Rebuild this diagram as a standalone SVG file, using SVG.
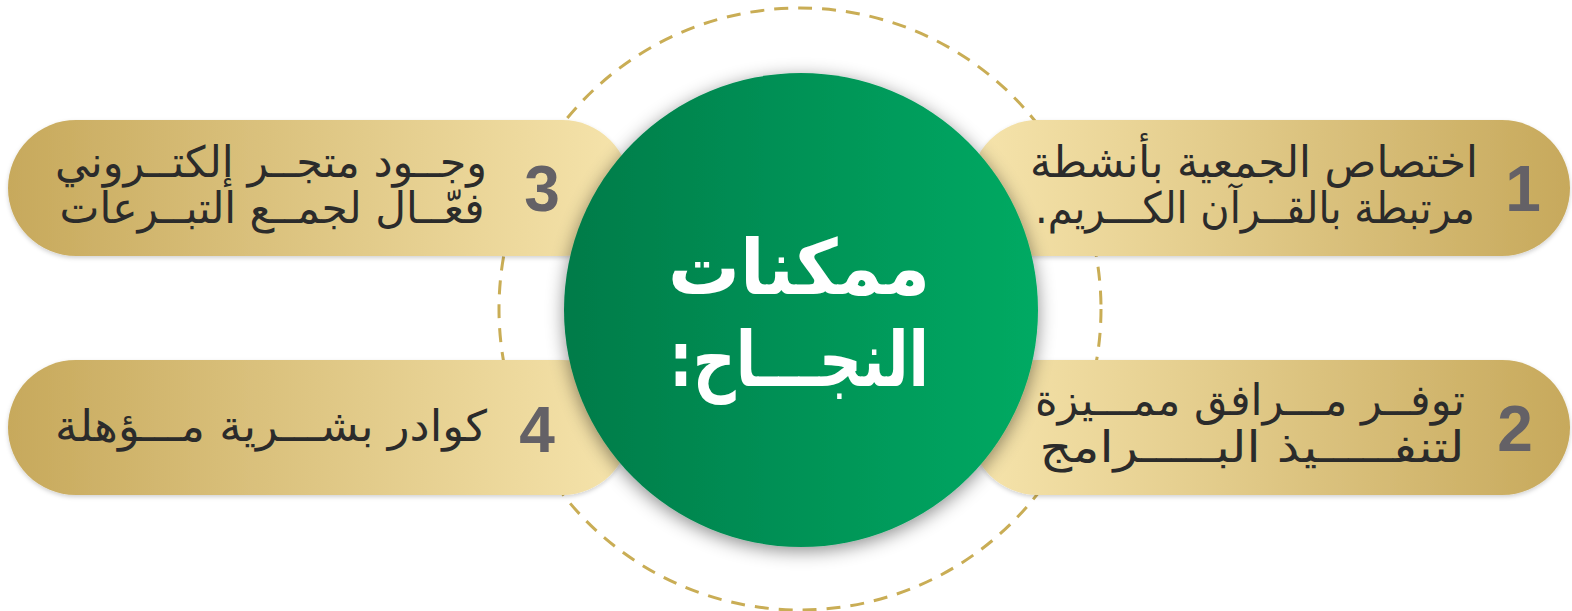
<svg xmlns="http://www.w3.org/2000/svg" width="1572" height="611" viewBox="0 0 1572 611">
  <defs>
    <linearGradient id="goldL" x1="0" y1="0" x2="1" y2="0">
      <stop offset="0" stop-color="#c7a95c"/>
      <stop offset="1" stop-color="#f6e4ac"/>
    </linearGradient>
    <linearGradient id="goldR" x1="0" y1="0" x2="1" y2="0">
      <stop offset="0" stop-color="#f6e4ac"/>
      <stop offset="1" stop-color="#c7a95c"/>
    </linearGradient>
    <linearGradient id="green" x1="0" y1="0" x2="1" y2="0">
      <stop offset="0" stop-color="#057b49"/>
      <stop offset="1" stop-color="#02aa63"/>
    </linearGradient>
    <filter id="pillShadow" x="-5%" y="-20%" width="110%" height="140%">
      <feDropShadow dx="0" dy="2" stdDeviation="2" flood-color="#000" flood-opacity="0.18"/>
    </filter>
    <filter id="circleShadow" x="-20%" y="-20%" width="140%" height="140%">
      <feDropShadow dx="0" dy="4" stdDeviation="9" flood-color="#000" flood-opacity="0.45"/>
    </filter>
  </defs>
  <style>
    .dash { fill: none; stroke: #c9ad55; stroke-width: 3; stroke-dasharray: 14 10; }
    .txt { font-family: "DejaVu Sans", "Noto Sans", sans-serif; font-size: 43px; fill: #2b2b2b; direction: rtl; text-anchor: middle; }
    .num { font-family: "Liberation Sans", Arial, sans-serif; font-size: 64px; font-weight: bold; fill: #646166; text-anchor: middle; }
    .title { font-family: "DejaVu Sans", "Noto Sans", sans-serif; font-size: 76px; font-weight: bold; fill: #ffffff; direction: rtl; text-anchor: middle; }
  </style>
  <rect width="1572" height="611" fill="#ffffff"/>

  <g id="ring">
    <circle class="dash" cx="800" cy="309" r="301"/>
  </g>

  <g id="connectors"></g>

  <g id="node-3">
    <rect x="8" y="120" width="622" height="136" rx="68" fill="url(#goldL)" filter="url(#pillShadow)"/>
    <text class="num" x="542" y="211">3</text>
    <text class="txt" x="271" y="177" textLength="432" lengthAdjust="spacingAndGlyphs">وجــود متجــر إلكتــروني</text>
    <text class="txt" x="272" y="223" textLength="425" lengthAdjust="spacingAndGlyphs">فعّــال لجمــع التبــرعات</text>
  </g>

  <g id="node-4">
    <rect x="8" y="360" width="622" height="135" rx="67.5" fill="url(#goldL)" filter="url(#pillShadow)"/>
    <text class="num" x="537" y="452">4</text>
    <text class="txt" x="271" y="441" textLength="432" lengthAdjust="spacingAndGlyphs">كوادر بشـــرية مـــؤهلة</text>
  </g>

  <g id="node-1">
    <rect x="970" y="120" width="600" height="136" rx="68" fill="url(#goldR)" filter="url(#pillShadow)"/>
    <text class="num" x="1523" y="211">1</text>
    <text class="txt" x="1254" y="177" textLength="448" lengthAdjust="spacingAndGlyphs">اختصاص الجمعية بأنشطة</text>
    <text class="txt" x="1255" y="223" textLength="440" lengthAdjust="spacingAndGlyphs">مرتبطة بالقــرآن الكـــريم.</text>
  </g>

  <g id="node-2">
    <rect x="970" y="360" width="600" height="135" rx="67.5" fill="url(#goldR)" filter="url(#pillShadow)"/>
    <text class="num" x="1515" y="451">2</text>
    <text class="txt" x="1250" y="415" textLength="430" lengthAdjust="spacingAndGlyphs">توفــر مـــرافق ممـــيزة</text>
    <text class="txt" x="1252" y="462" textLength="425" lengthAdjust="spacingAndGlyphs">لتنفـــــيذ البـــــرامج</text>
  </g>

  <g id="node-center">
    <circle cx="801" cy="310" r="237" fill="url(#green)" filter="url(#circleShadow)"/>
    <text class="title" x="799" y="294" textLength="262" lengthAdjust="spacingAndGlyphs">ممكنات</text>
    <text class="title" x="799" y="386" textLength="260" lengthAdjust="spacingAndGlyphs">النجـــاح:</text>
  </g>
</svg>
